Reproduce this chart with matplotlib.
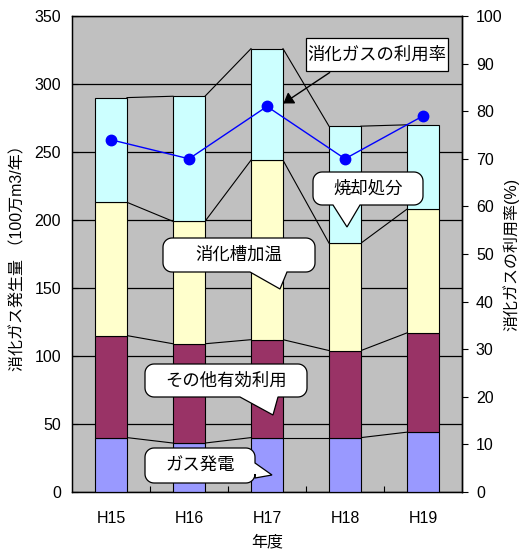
import numpy as np
import matplotlib
matplotlib.use("Agg")
import matplotlib.pyplot as plt
from matplotlib.patches import Polygon, Rectangle, FancyArrowPatch

plt.rcParams['font.family'] = ['Liberation Sans', 'Noto Sans CJK JP', 'DejaVu Sans']

# Annual digester gas volume (1,000,000 m3/year) by use, and utilisation rate (%)
years = ['H15', 'H16', 'H17', 'H18', 'H19']
gas_power = [40, 36, 40, 40, 44]          # ガス発電
other_use = [75, 73, 72, 64, 73]          # その他有効利用
digester_heating = [98, 90, 132, 79, 91]  # 消化槽加温
incineration = [77, 92, 82, 86, 62]       # 焼却処分
utilisation_rate = [74, 70, 81, 70, 79]   # 消化ガスの利用率

segments = [gas_power, other_use, digester_heating, incineration]
colors = ['#9999FF', '#993366', '#FFFFCC', '#CCFFFF']

W, H = 524, 550
fig = plt.figure(figsize=(W / 100, H / 100), dpi=100)
ax = fig.add_axes([72 / W, 1 - 492 / H, 390 / W, 476 / H])
ax.set_facecolor('#C0C0C0')

x = np.arange(len(years))
bw = 0.41
bottom = np.zeros(len(years))
levels = []
for vals, c in zip(segments, colors):
    vals = np.asarray(vals, float)
    ax.bar(x, vals, bw, bottom=bottom, color=c, edgecolor='black',
           linewidth=0.8, zorder=3)
    bottom = bottom + vals
    levels.append(bottom.copy())

# series lines joining the segment tops of neighbouring bars
for lv in levels:
    for i in range(len(years) - 1):
        ax.plot([x[i] + bw / 2, x[i + 1] - bw / 2], [lv[i], lv[i + 1]],
                color='black', linewidth=0.8, zorder=2)

ax.set_xlim(-0.5, len(years) - 0.5)
ax.set_ylim(0, 350)
ax.set_yticks(np.arange(0, 351, 50))
ax.yaxis.grid(True, color='black', linewidth=0.9, zorder=1)
ax.set_axisbelow(True)
ax.set_xticks(np.arange(0.5, len(years) - 1, 1.0))
ax.set_xticklabels([])
ax.set_xticks(x, minor=True)
ax.set_xticklabels(years, minor=True)
ax.tick_params(axis='x', which='major', direction='in', length=4, width=0.8)
ax.tick_params(axis='x', which='minor', length=0, pad=14, labelsize=11.5)
ax.tick_params(axis='y', direction='in', length=4, labelsize=11.5, pad=8)
for s in ax.spines.values():
    s.set_linewidth(1.0)
ax.set_xlabel('年度', fontsize=11.5, labelpad=6)

ax2 = ax.twinx()
ax2.plot(x, utilisation_rate, color='#0000FF', linewidth=1.0, marker='o',
         markersize=7.5, zorder=5)
ax2.set_ylim(0, 100)
ax2.set_yticks(np.arange(0, 101, 10))
ax2.tick_params(axis='y', direction='out', length=4, labelsize=11.5, pad=6)
ax2.spines['right'].set_linewidth(1.0)

# axis titles, both reading bottom to top
fig.text(18 / W, 1 - 254 / H, '消化ガス発生量 （100万m3/年）', rotation=90,
         ha='center', va='center', fontsize=11.5)
fig.text(511 / W, 1 - 254 / H, '消化ガスの利用率(%)', rotation=90,
         ha='center', va='center', fontsize=11.5)


def P(px, py):
    return (px / W, 1 - py / H)


def bubble(x0, y0, x1, y1, text, tip, base, side='bottom', r=9):
    def arc(cx, cy, a0, a1):
        a = np.radians(np.linspace(a0, a1, 10))
        return [(cx + r * np.cos(t), cy + r * np.sin(t)) for t in a]
    pts = []
    pts += arc(x0 + r, y0 + r, 180, 270)
    pts += arc(x1 - r, y0 + r, 270, 360)
    if side == 'right':
        pts += [(x1, base[0]), tip, (x1, base[1])]
    pts += arc(x1 - r, y1 - r, 0, 90)
    if side == 'bottom':
        pts += [(base[1], y1), tip, (base[0], y1)]
    pts += arc(x0 + r, y1 - r, 90, 180)
    poly = Polygon([P(*p) for p in pts], closed=True, transform=fig.transFigure,
                   facecolor='white', edgecolor='black', linewidth=0.9, zorder=10)
    fig.add_artist(poly)
    cx, cy = P((x0 + x1) / 2, (y0 + y1) / 2)
    fig.text(cx, cy, text, ha='center', va='center', fontsize=12.5,
             family=['Noto Sans CJK JP', 'DejaVu Sans'], zorder=11)


bubble(313, 172, 423, 205, '焼却処分', (347, 227), (333, 360))
bubble(163, 238, 315, 272, '消化槽加温', (280, 289), (250, 287))
bubble(145, 364, 307, 397, 'その他有効利用', (273, 415), (240, 278))
bubble(145, 448, 255, 483, 'ガス発電', (272, 475), (463, 478), side='right')

# label box for the utilisation-rate line
x0, y0 = P(306, 71)
x1, y1 = P(448, 38)
fig.add_artist(Rectangle((x0, y0), x1 - x0, y1 - y0, transform=fig.transFigure,
                         facecolor='white', edgecolor='black', linewidth=0.9,
                         zorder=10))
fig.text((x0 + x1) / 2, (y0 + y1) / 2, '消化ガスの利用率', ha='center', va='center',
         fontsize=12.5, family=['Noto Sans CJK JP', 'DejaVu Sans'], zorder=11)
fig.add_artist(FancyArrowPatch(P(332, 71), P(281, 105), transform=fig.transFigure,
                               arrowstyle='-|>,head_length=6,head_width=4',
                               color='black', linewidth=1.0, zorder=10))

fig.savefig('out.png', dpi=100)
